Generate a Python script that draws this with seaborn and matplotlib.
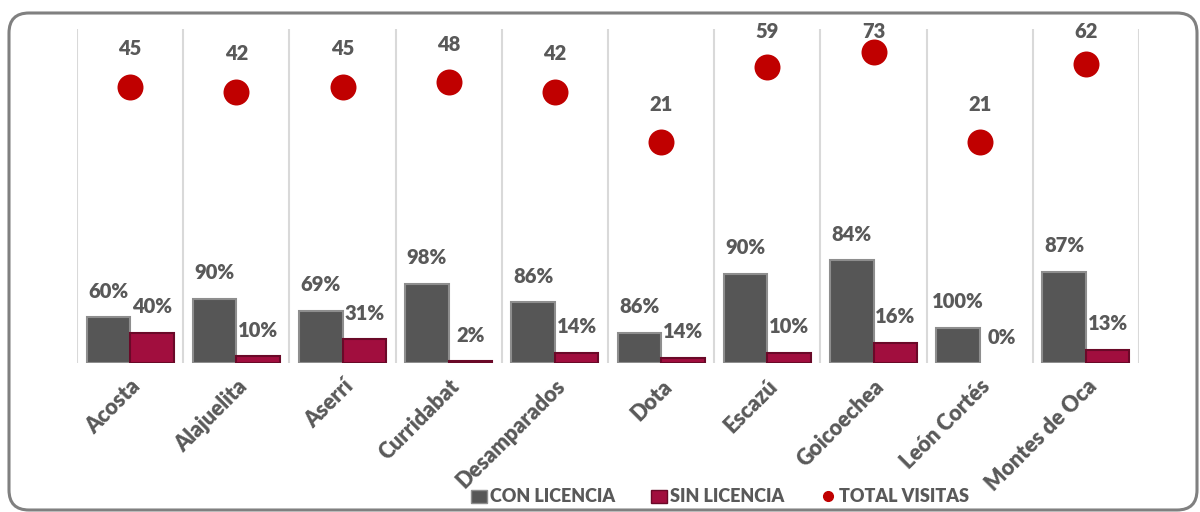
import numpy as np
import pandas as pd
import matplotlib
matplotlib.use("Agg")
import matplotlib.pyplot as plt
import seaborn as sns
from matplotlib.patches import FancyBboxPatch, Patch
from matplotlib.lines import Line2D
from matplotlib.transforms import IdentityTransform

## visitas por canton
cantones = ["Acosta", "Alajuelita", "Aserrí", "Curridabat", "Desamparados",
            "Dota", "Escazú", "Goicoechea", "León Cortés", "Montes de Oca"]
con_licencia = [27, 38, 31, 47, 36, 18, 53, 61, 21, 54]
sin_licencia = [18, 4, 14, 1, 6, 3, 6, 12, 0, 8]
total_visitas = [45, 42, 45, 48, 42, 21, 59, 73, 21, 62]
pct_con = ["60%", "90%", "69%", "98%", "86%", "86%", "90%", "84%", "100%", "87%"]
pct_sin = ["40%", "10%", "31%", "2%", "14%", "14%", "10%", "16%", "0%", "13%"]

sns.set_theme(style="white")
plt.rcParams["font.family"] = ["Lato", "DejaVu Sans"]

gris = "#595959"
peso = "heavy"
col_con, col_sin, col_tot = "#565656", "#a10e3e", "#c00000"

df = pd.DataFrame({
    "canton": cantones * 2,
    "visitas": con_licencia + sin_licencia,
    "tipo": ["CON LICENCIA"] * len(cantones) + ["SIN LICENCIA"] * len(cantones),
})

W, H = 1200, 512
fig = plt.figure(figsize=(12, 5.12), dpi=100)
ax = fig.add_axes([77 / W, 149 / H, 1062 / W, 334 / H])

sns.barplot(data=df, x="canton", y="visitas", hue="tipo",
            palette=[col_con, col_sin], width=0.82, gap=0, saturation=1,
            legend=False, ax=ax, zorder=2)

# borde tipo bisel
for cont, ec in zip(ax.containers, ["#8e8e8e", "#6a0928"]):
    for rect in cont:
        rect.set_edgecolor(ec)
        rect.set_linewidth(1.5 if rect.get_height() > 0 else 0)

# etiquetas de porcentaje
for cont, etiquetas in zip(ax.containers, [pct_con, pct_sin]):
    for rect, t in zip(cont, etiquetas):
        ax.annotate(t, (rect.get_x() + rect.get_width() / 2, rect.get_height()),
                    xytext=(0, 26), textcoords="offset pixels",
                    ha="center", va="center", fontsize=14.5, fontweight=peso,
                    color=gris)

# separadores verticales
for xs in np.arange(-0.5, len(cantones), 1.0):
    ax.axvline(xs, color="#d9d9d9", lw=1.5, zorder=0)

ax.set_xlim(-0.5, len(cantones) - 0.5)
ax.set_ylim(0, 198)
ax.set_yticks([])
ax.set_xlabel("")
ax.set_ylabel("")
sns.despine(ax=ax, left=True, bottom=True)
ax.tick_params(axis="x", length=0, pad=9)
for lbl in ax.get_xticklabels():
    lbl.set_rotation(45)
    lbl.set_ha("right")
    lbl.set_rotation_mode("anchor")
    lbl.set_fontsize(15.5)
    lbl.set_fontweight(peso)
    lbl.set_color(gris)

# total visitas en eje secundario (log)
ax2 = ax.twinx()
ax2.set_yscale("log")
sns.scatterplot(x=cantones, y=total_visitas, color=col_tot, s=350,
                linewidth=0, ax=ax2, zorder=3)
ax2.set_ylim(1, 100)
ax2.set_xlim(-0.5, len(cantones) - 0.5)
ax2.set_yticks([])
ax2.minorticks_off()
ax2.set_ylabel("")
for s in ax2.spines.values():
    s.set_visible(False)

# etiqueta sobre el punto, sin salir del area del grafico
for i, v in enumerate(total_visitas):
    px, py = ax2.transData.transform((i, v))
    py = min(py + 38, H - 32)
    ax2.annotate(str(v), (px, py), xycoords="figure pixels",
                 ha="center", va="center", fontsize=14.5, fontweight=peso,
                 color=gris)

# leyenda
handles = [Patch(facecolor=col_con, edgecolor="#8e8e8e"),
           Patch(facecolor=col_sin, edgecolor="#6a0928"),
           Line2D([], [], marker="o", ls="", color=col_tot, markersize=7)]
fig.legend(handles, ["CON LICENCIA", "SIN LICENCIA", "TOTAL VISITAS"],
           loc="center", bbox_to_anchor=(720 / W, 1 - 497 / H), ncol=3,
           frameon=False, prop=dict(weight=peso, size=13), labelcolor=gris,
           handlelength=0.9, handleheight=0.75, handletextpad=0.15,
           columnspacing=2.0)

# marco redondeado
marco = FancyBboxPatch((9, 2), 1188, 497, boxstyle="round,pad=0,rounding_size=20",
                       transform=IdentityTransform(), fill=False,
                       edgecolor="#808080", linewidth=2.2)
fig.add_artist(marco)

fig.savefig("out.png", dpi=100)
